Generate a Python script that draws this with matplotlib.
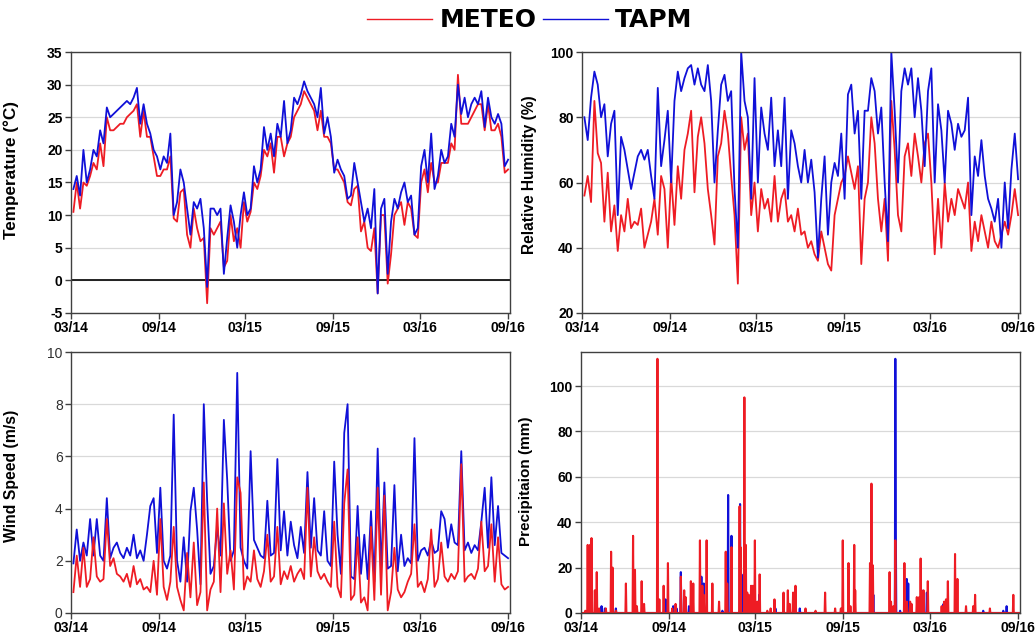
import matplotlib
matplotlib.use('Agg')
import matplotlib.pyplot as plt
import matplotlib.dates as mdates
import pandas as pd

plt.rcParams['font.family'] = ['Liberation Sans', 'DejaVu Sans']
plt.rcParams['axes.unicode_minus'] = False

# weekly samples, starting 2014-03-06
start = '2014-03-06'
n_weeks = 131

temp_tapm = [14, 16, 13, 20, 15, 17, 20, 19, 23, 21, 26.5, 25, 25.5, 26, 26.5, 27, 27.5, 27, 28, 29.5,
             24, 27, 24, 22.5, 20, 19, 17, 19, 18, 22.5, 10, 12, 17, 15, 11, 7, 12, 11, 12.5, 8,
             -1, 11, 11, 10, 11, 1, 6.5, 11.5, 9, 5, 10, 13.5, 10, 11, 17.5, 15, 17, 23.5, 20, 22.5,
             19, 24, 22, 27.5, 21, 23, 28, 27, 28.5, 30.5, 29, 28, 27, 25, 29.5, 22.5, 25, 22, 16.5, 18.5,
             17, 16, 12.5, 13, 18, 15, 12, 9, 11, 8, 14, -2, 11, 12.5, 1, 9, 12.5, 11, 13.5, 15,
             12, 13, 7, 8, 17.5, 20, 15, 22.5, 14, 16, 20, 18, 19, 24, 22, 30, 25.5, 28, 25, 27,
             28, 27, 29, 23.5, 28, 25, 24, 25.5, 24, 17.5, 18.5]
temp_meteo = [10.5, 15, 11, 15, 14.5, 16, 18, 17, 21, 17.5, 25, 23, 23, 23.5, 24, 24, 25, 25.5, 26, 27,
              22, 26, 22, 22, 19, 16, 16, 17, 17, 19, 9.5, 9, 13.5, 14, 7, 5, 11, 8, 6, 6.5,
              -3.5, 8, 7, 8, 9, 2, 3, 10, 6, 8, 5, 12, 9, 10.5, 15, 14, 16, 20, 19, 21,
              16.5, 22, 22, 19, 21, 22, 25, 26, 27, 29, 28, 27, 26, 23, 26, 22, 22, 21, 17, 17,
              16, 15, 12, 11.5, 14, 14.5, 7.5, 9, 5, 4.5, 8, -2, 10, 10, -0.5, 4, 10, 11, 12, 8.5,
              12, 11, 7, 6.5, 15, 17, 13.5, 18, 15, 15, 18, 18, 18, 21, 20, 31.5, 24, 24, 24, 25,
              26, 27, 27, 23, 27, 23, 23, 24, 22, 16.5, 17]

rh_tapm = [80, 73, 86, 94, 90, 80, 84, 68, 78, 82, 50, 74, 70, 64, 58, 63, 68, 70, 67, 70,
           62, 55, 89, 65, 73, 82, 60, 85, 94, 88, 92, 95, 96, 90, 95, 90, 88, 96, 85, 60,
           76, 90, 93, 85, 88, 58, 40, 100, 85, 80, 55, 92, 60, 83, 75, 70, 86, 65, 76, 65,
           86, 55, 76, 72, 65, 60, 70, 60, 67, 57, 37, 55, 68, 44, 60, 66, 62, 75, 55, 87,
           90, 75, 82, 55, 82, 82, 92, 88, 75, 83, 60, 42, 100, 82, 60, 88, 95, 90, 95, 80,
           92, 82, 65, 88, 95, 60, 84, 76, 60, 82, 78, 70, 78, 74, 76, 86, 50, 68, 62, 73,
           62, 55, 52, 48, 55, 40, 60, 46, 64, 75, 61]
rh_meteo = [56, 62, 54, 85, 69, 66, 48, 63, 45, 53, 39, 50, 45, 55, 46, 48, 47, 52, 40, 44,
            48, 55, 44, 62, 58, 40, 62, 47, 65, 55, 70, 75, 82, 57, 74, 80, 72, 58, 50, 41,
            68, 72, 82, 75, 62, 50, 29, 80, 70, 75, 50, 60, 45, 58, 52, 55, 48, 62, 48, 55,
            58, 48, 50, 45, 52, 44, 45, 40, 42, 38, 36, 45, 40, 35, 33, 50, 55, 60, 62, 68,
            63, 58, 65, 35, 55, 60, 80, 72, 55, 45, 55, 36, 85, 70, 50, 45, 68, 72, 62, 75,
            68, 60, 72, 75, 60, 38, 55, 40, 60, 48, 55, 50, 58, 55, 52, 60, 39, 48, 42, 50,
            45, 40, 48, 42, 40, 44, 48, 44, 50, 58, 50]

wind_tapm = [1.9, 3.2, 2.0, 2.7, 2.2, 3.6, 2.2, 3.6, 2.2, 2.0, 4.4, 2.1, 2.5, 2.7, 2.3, 2.1, 2.5, 2.2, 3.0, 2.1,
             2.4, 2.0, 3.0, 4.1, 4.4, 2.3, 4.8, 2.0, 1.7, 2.2, 7.6, 2.0, 1.2, 2.9, 1.2, 3.9, 4.8, 3.2, 1.1, 8.0,
             4.3, 1.5, 1.8, 3.3, 2.2, 7.4, 5.1, 2.0, 2.4, 9.2, 2.5, 2.0, 1.7, 6.2, 2.8, 2.5, 2.2, 2.1, 4.3, 2.2,
             2.3, 5.9, 2.4, 3.9, 2.2, 3.5, 2.6, 2.1, 3.3, 2.3, 5.4, 2.5, 4.4, 2.4, 2.2, 3.9, 2.0, 1.8, 5.8, 3.0,
             1.5, 6.9, 8.0, 1.4, 1.3, 4.1, 1.5, 3.0, 1.3, 3.9, 1.2, 6.3, 1.6, 5.0, 1.7, 1.8, 4.9, 1.6, 3.0, 1.8,
             2.1, 1.9, 6.7, 2.0, 2.4, 2.5, 2.2, 2.8, 2.3, 2.4, 3.9, 3.6, 2.5, 3.4, 2.7, 2.6, 6.2, 2.4, 2.7, 2.3,
             2.6, 2.4, 3.5, 4.8, 2.5, 5.2, 2.6, 4.1, 2.3, 2.2, 2.1]
wind_meteo = [0.8, 2.2, 1.0, 2.5, 1.0, 1.3, 2.9, 1.4, 1.2, 1.3, 3.6, 1.8, 2.1, 1.5, 1.4, 1.2, 1.5, 1.0, 1.8, 1.1,
              1.3, 0.9, 1.0, 0.8, 2.0, 0.7, 3.6, 1.0, 0.5, 1.2, 3.3, 1.0, 0.5, 0.1, 2.3, 0.6, 2.7, 0.3, 0.8, 5.0,
              0.1, 0.9, 1.2, 4.0, 0.8, 4.2, 1.5, 2.4, 0.9, 5.2, 4.6, 0.9, 1.4, 1.2, 2.4, 1.3, 1.0, 1.6, 3.0, 1.2,
              1.4, 3.3, 1.1, 1.6, 1.3, 1.8, 1.2, 1.5, 1.7, 1.3, 4.8, 1.4, 2.9, 1.6, 1.3, 1.5, 1.2, 1.0, 3.5, 1.0,
              0.6, 4.2, 5.5, 0.5, 0.7, 2.9, 0.4, 0.6, 0.1, 3.3, 0.5, 4.8, 0.7, 4.5, 0.1, 0.8, 2.5, 0.9, 0.6, 0.8,
              1.2, 1.5, 3.4, 1.0, 1.2, 0.8, 1.3, 3.2, 1.0, 1.3, 2.7, 1.4, 1.2, 1.5, 1.3, 1.6, 5.7, 1.2, 1.4, 1.5,
              1.3, 1.7, 3.5, 1.6, 1.8, 3.4, 1.2, 2.9, 1.1, 0.9, 1.0]

# rain days (days after 2014-03-01) and amounts in mm
rain_origin = '2014-03-01'
rain_days_meteo = [9, 14, 19, 22, 29, 33, 38, 52, 63, 66, 73, 94, 109, 113, 117, 127, 132, 160, 164, 173,
                   182, 191, 198, 209, 216, 219, 230, 235, 249, 254, 257, 263, 275, 289, 303, 306, 315, 332, 334, 342,
                   345, 348, 351, 356, 360, 364, 369, 374, 390, 397, 405, 424, 433, 437, 444, 449, 470, 491, 511, 532,
                   544, 548, 560, 564, 572, 574, 605, 608, 611, 646, 649, 654, 658, 677, 682, 689, 692, 703, 708, 711,
                   717, 726, 755, 760, 764, 768, 783, 788, 806, 821, 825, 856, 905]
rain_meteo = [1, 30, 30, 33, 10, 18, 2, 2, 27, 20, 1, 13, 34, 19, 3, 14, 4, 112, 6, 12,
              22, 2, 4, 16, 10, 7, 14, 13, 32, 12, 8, 32, 13, 5, 27, 13, 29, 47, 29, 95,
              30, 9, 8, 12, 12, 32, 5, 17, 1, 2, 6, 9, 10, 4, 9, 12, 2, 1, 9, 2,
              2, 32, 22, 3, 30, 10, 22, 57, 21, 18, 5, 3, 32, 22, 5, 5, 4, 7, 7, 24,
              10, 14, 3, 5, 6, 14, 26, 15, 3, 3, 8, 2, 8]
rain_days_tapm = [21, 43, 50, 73, 177, 181, 193, 200, 209, 226, 252, 257, 296, 308, 315, 333, 336, 373, 407, 458,
                  607, 612, 658, 659, 668, 682, 685, 713, 724, 759, 842, 884, 891]
rain_tapm = [1, 3, 2, 2, 6, 3, 3, 2, 18, 3, 16, 13, 1, 52, 34, 48, 17, 8, 2, 2,
             22, 8, 112, 37, 1, 15, 13, 10, 9, 4, 1, 1, 3]

RED = '#ee1c24'
BLUE = '#1010d8'

weeks = pd.date_range(start, periods=n_weeks, freq='7D')
days = pd.date_range(rain_origin, '2016-09-03', freq='D')


def daily(day_list, vals):
    s = pd.Series(0.0, index=days)
    s.iloc[day_list] = vals
    return s


fig = plt.figure(figsize=(10.35, 6.35), dpi=100)
W, H = 1035.0, 635.0


def make_ax(x0, y0, x1, y1):
    return fig.add_axes([x0 / W, 1 - y1 / H, (x1 - x0) / W, (y1 - y0) / H])


ax_t = make_ax(71, 52, 510, 313)
ax_h = make_ax(582, 52, 1020, 313)
ax_w = make_ax(71, 352, 510, 613)
ax_p = make_ax(581, 352, 1020, 613)

# temperature
ax_t.plot(weeks, temp_meteo, color=RED, lw=1.3)
ax_t.plot(weeks, temp_tapm, color=BLUE, lw=1.3)
ax_t.axhline(0, color='black', lw=1.2, zorder=1)
ax_t.set_ylim(-5, 35)
ax_t.set_yticks(range(-5, 36, 5))
ax_t.set_ylabel('Temperature (°C)')

# relative humidity
ax_h.plot(weeks, rh_meteo, color=RED, lw=1.3)
ax_h.plot(weeks, rh_tapm, color=BLUE, lw=1.3)
ax_h.set_ylim(20, 100)
ax_h.set_yticks(range(20, 101, 20))
ax_h.set_ylabel('Relative Humidity (%)')

# wind speed
ax_w.plot(weeks, wind_tapm, color=BLUE, lw=1.3)
ax_w.plot(weeks, wind_meteo, color=RED, lw=1.3)
ax_w.set_ylim(0, 10)
ax_w.set_yticks(range(0, 11, 2))
ax_w.set_ylabel('Wind Speed (m/s)')

# precipitation
ax_p.plot(days, daily(rain_days_tapm, rain_tapm), color=BLUE, lw=1.5)
ax_p.plot(days, daily(rain_days_meteo, rain_meteo), color=RED, lw=1.5)
ax_p.set_ylim(0, 115)
ax_p.set_yticks(range(0, 101, 20))
ax_p.set_ylabel('Precipitaion (mm)')

# (label x, label y, size) per panel
lab = {ax_t: (-0.118, 0.548, 12.3), ax_h: (-0.103, 0.529, 11.2),
       ax_w: (-0.118, 0.525, 11.3), ax_p: (-0.109, 0.506, 11.0)}
for ax in (ax_t, ax_h, ax_w, ax_p):
    ax.set_xlim(pd.Timestamp('2014-03-01'), pd.Timestamp('2016-09-05'))
    ax.xaxis.set_major_locator(mdates.MonthLocator(bymonth=[3, 9]))
    ax.xaxis.set_major_formatter(mdates.DateFormatter('%m/%y'))
    ax.grid(axis='y', color='#d9d9d9', lw=0.9)
    ax.set_axisbelow(True)
    for sp in ax.spines.values():
        sp.set_color('#404040')
        sp.set_linewidth(1.0)
    ax.tick_params(axis='both', direction='out', length=4, width=1, color='#404040', pad=2, labelsize=10)
    for t in ax.get_xticklabels():
        t.set_fontweight('bold')
    for t in ax.get_yticklabels():
        if ax is ax_w:
            t.set_color('#303030')
        else:
            t.set_fontweight('bold')
    lx, ly, ls = lab[ax]
    ax.yaxis.label.set_fontsize(ls)
    ax.yaxis.label.set_fontweight('bold')
    ax.yaxis.set_label_coords(lx, ly)

h1, = ax_t.plot([], [], color=RED, lw=1.0, label='METEO')
h2, = ax_t.plot([], [], color=BLUE, lw=1.0, label='TAPM')
fig.legend(handles=[h1, h2], loc='center', bbox_to_anchor=(0.512, 0.968), ncol=2,
           frameon=False, handlelength=2.6, handletextpad=0.3, columnspacing=0.25,
           prop={'family': 'DejaVu Sans', 'weight': 'bold', 'size': 18})

fig.savefig('out.png', dpi=100)
